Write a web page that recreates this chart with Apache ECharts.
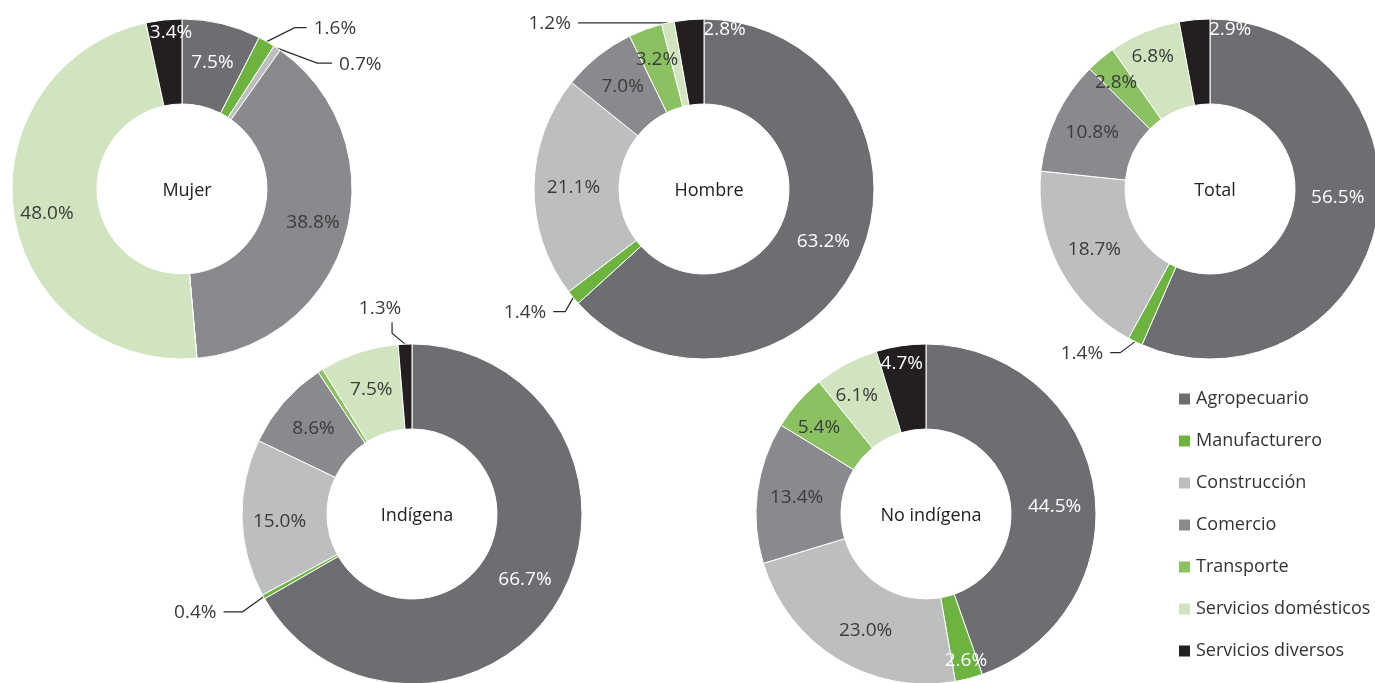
<!DOCTYPE html>
<html>
<head>
<meta charset="utf-8">
<script src="https://cdn.jsdelivr.net/npm/echarts@6/dist/echarts.min.js"></script>
<style>
  html, body { margin: 0; background: #fff; }
  #chart { width: 1375px; height: 683px; }
</style>
</head>
<body>
<div id="chart"></div>
<script>
// sectors, clockwise from 12 o'clock
const categories = ["Agropecuario", "Manufacturero", "Construcción", "Comercio", "Transporte", "Servicios domésticos", "Servicios diversos"];
const mujer = [7.5, 1.6, 0.7, 38.8, 0, 48.0, 3.4];
const hombre = [63.2, 1.4, 21.1, 7.0, 3.2, 1.2, 2.8];
const total = [56.5, 1.4, 18.7, 10.8, 2.8, 6.8, 2.9];
const indigena = [66.7, 0.4, 15.0, 8.6, 0.5, 7.5, 1.3];
const noIndigena = [44.5, 2.6, 23.0, 13.4, 5.4, 6.1, 4.7];

const colors = ["#6d6e71", "#6cb33f", "#bcbec0", "#898a8d", "#8cc162", "#d0e4c0", "#231f20"];
const font = "'Open Sans', 'Noto Sans', sans-serif";
const darkText = "#3b3b3b";

// per pie: where it sits, which labels go outside, which are hidden / white
const pies = [
  { name: "Mujer", values: mujer, center: [182, 189], outside: [1, 2], hide: [4], white: [0, 6] },
  { name: "Hombre", values: hombre, center: [704, 189], outside: [1, 5], hide: [], white: [0, 6] },
  { name: "Total", values: total, center: [1210, 189], outside: [1], hide: [], white: [0, 6] },
  { name: "Indígena", values: indigena, center: [412, 514], outside: [1, 6], hide: [4], white: [0, 6] },
  { name: "No indígena", values: noIndigena, center: [926, 514], outside: [], hide: [], white: [0, 1, 6] },
];

// small nudges of inside label text, "series-item": [dx, dy]
const nudges = {
  "0-6": [3, -27], "0-3": [5, 0], "0-5": [-6, 5],
  "1-6": [32, -29], "1-4": [-2, -7],
  "2-6": [32, -29], "2-0": [0, -18], "2-4": [-10, -6], "2-5": [-7, -12],
  "3-1": [0, 0], "3-2": [-2, 4],
  "4-6": [-5, -21], "4-0": [0, 14], "4-1": [7, 20], "4-2": [8, 5], "4-4": [-9, 0], "4-5": [-8, -3],
};

// leader line shapes: bend [dx, dy] from the sector edge, then a second leg [dx, dy]
const leaders = {
  "0-1": [[28, -14], [12, 0]],
  "0-2": [[40, 15], [15, 0]],
  "1-1": [[-8, 14], [-12, 0]],
  "1-5": [[-2, 0], [-88, 0]],
  "2-1": [[-15, 11], [-10, 0]],
  "3-1": [[-21, 15], [-19, 0]],
  "3-6": [[-13, -11], [0, -11], "top"],
};

function layoutLabel(si, params) {
  const key = si + "-" + params.dataIndex;
  const lead = leaders[key];
  if (lead && params.labelLinePoints) {
    const p0 = params.labelLinePoints[0];
    const p1 = [p0[0] + lead[0][0], p0[1] + lead[0][1]];
    const p2 = [p1[0] + lead[1][0], p1[1] + lead[1][1]];
    if (lead[2] === "top") {
      return { x: p2[0] - 12, y: p2[1] - 14, align: "center", verticalAlign: "middle", labelLinePoints: [p0, p1, p2] };
    }
    const right = lead[1][0] >= 0;
    return {
      x: p2[0] + (right ? 7 : -7), y: p2[1] + 1,
      align: right ? "left" : "right", verticalAlign: "middle",
      labelLinePoints: [p0, p1, p2],
    };
  }
  const n = nudges[key];
  return n ? { dx: n[0], dy: n[1] } : {};
}

const series = pies.map((p, si) => ({
  name: p.name,
  type: "pie",
  center: p.center,
  radius: [85, 170],
  startAngle: 90,
  clockwise: true,
  avoidLabelOverlap: false,
  silent: true,
  itemStyle: { borderColor: "#fff", borderWidth: 1 },
  label: {
    show: true,
    position: "inside",
    fontFamily: font,
    fontSize: 19,
    color: darkText,
    formatter: (d) => d.value.toFixed(1) + "%",
  },
  labelLine: { show: false, lineStyle: { color: "#2b2b2b", width: 1.2 } },
  labelLayout: (params) => layoutLabel(si, params),
  data: p.values.map((v, i) => {
    const item = { name: categories[i], value: v, itemStyle: { color: colors[i] } };
    if (p.hide.includes(i)) {
      item.label = { show: false };
    } else if (p.outside.includes(i)) {
      item.label = { position: "outside", color: darkText };
      item.labelLine = { show: true, length: 10, length2: 10 };
    } else if (p.white.includes(i)) {
      item.label = { color: "#fff" };
    }
    return item;
  }),
}));

const chart = echarts.init(document.getElementById("chart"));
chart.setOption({
  animation: false,
  color: colors,
  title: pies.map((p) => ({
    text: p.name,
    left: p.center[0],
    top: p.center[1] - 3,
    textAlign: "center",
    textVerticalAlign: "middle",
    textStyle: { fontFamily: font, fontSize: 18, fontWeight: "normal", color: "#222" },
  })),
  legend: {
    orient: "vertical",
    left: 1172,
    top: 384,
    itemWidth: 13,
    itemHeight: 13,
    itemGap: 22,
    icon: "rect",
    selectedMode: false,
    data: categories,
    textStyle: { fontFamily: font, fontSize: 18, color: "#333", lineHeight: 20 },
  },
  series: series,
});
</script>
</body>
</html>
